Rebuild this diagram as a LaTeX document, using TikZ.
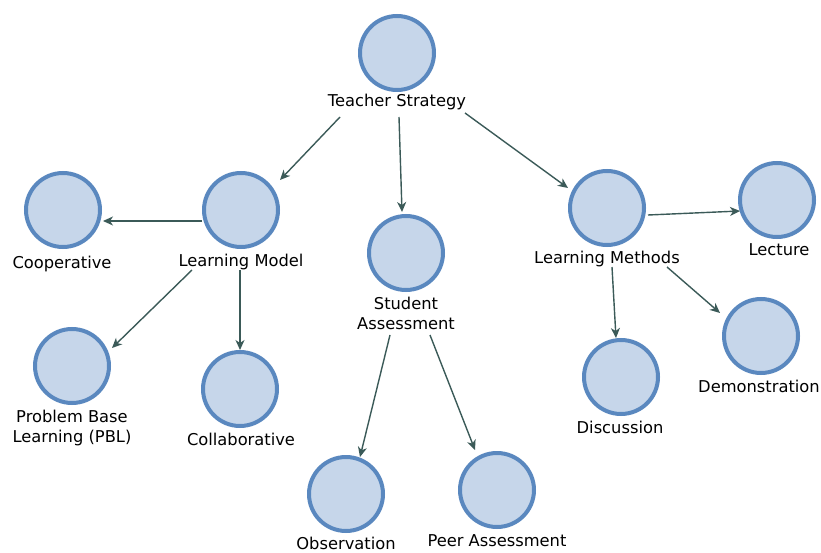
\documentclass[tikz,border=0pt]{standalone}
\usepackage{fontspec}
\setmainfont{DejaVu Sans}
\usetikzlibrary{arrows.meta,calc}
\definecolor{cfill}{HTML}{C6D6EA}
\definecolor{cdraw}{HTML}{5A88BF}
\definecolor{carrow}{HTML}{3B5A58}
\begin{document}
\begin{tikzpicture}[x=1pt,y=-1pt,
  concept/.style={circle,minimum size=74pt,inner sep=0pt,fill=cfill,draw=cdraw,line width=4pt},
  lbl/.style={anchor=base,inner sep=0pt,align=center,font=\fontsize{16.3}{20}\selectfont,text=black},
  conn/.style={draw=carrow,line width=1.4pt,-{Stealth[length=10pt,width=9pt,inset=3pt]}}]
\useasboundingbox (0,0) rectangle (821,553);
% concepts
\node[concept] (ts) at (397,53) {};
\node[lbl] (tsl) at (397,107) {Teacher Strategy};
\node[concept] (lm) at (241,210) {};
\node[lbl] (lml) at (241,266) {Learning Model};
\node[concept] (coop) at (63,210) {};
\node[lbl] (coopl) at (62,268) {Cooperative};
\node[concept] (sa) at (406,253) {};
\node[lbl] (sal) at (406,329) {Student\\Assessment};
\node[concept] (lmeth) at (607,208) {};
\node[lbl] (lmethl) at (607,263) {Learning Methods};
\node[concept] (lec) at (777,200) {};
\node[lbl] (lecl) at (779,255) {Lecture};
\node[concept] (pbl) at (72,366) {};
\node[lbl] (pbll) at (72,442) {Problem Base\\Learning (PBL)};
\node[concept] (col) at (240,389) {};
\node[lbl] (coll) at (241,445) {Collaborative};
\node[concept] (disc) at (621,377) {};
\node[lbl] (discl) at (620,433) {Discussion};
\node[concept] (demo) at (761,336) {};
\node[lbl] (demol) at (759,392) {Demonstration};
\node[concept] (obs) at (346,494) {};
\node[lbl] (obsl) at (346,549) {Observation};
\node[concept] (peer) at (497,490) {};
\node[lbl] (peerl) at (497,546) {Peer Assessment};
% connectors
\draw[conn] ($(ts)+(-57,64)$) -- ($(lm)+(39,-30)$);
\draw[conn] ($(ts)+(2,64)$) -- ($(sa)+(-4,-41)$);
\draw[conn] ($(ts)+(68,60)$) -- ($(lmeth)+(-39,-20)$);
\draw[conn] ($(lm)+(-39,11)$) -- ($(coop)+(40,11)$);
\draw[conn] ($(lm)+(-49,60)$) -- ($(pbl)+(40,-18)$);
\draw[conn] ($(lm)+(-1,60)$) -- ($(col)+(0,-39)$);
\draw[conn] ($(sa)+(-16,82)$) -- ($(obs)+(14,-37)$);
\draw[conn] ($(sa)+(24,82)$) -- ($(peer)+(-22,-40)$);
\draw[conn] ($(lmeth)+(41,7)$) -- ($(lec)+(-37,11)$);
\draw[conn] ($(lmeth)+(5,59)$) -- ($(disc)+(-5,-39)$);
\draw[conn] ($(lmeth)+(60,59)$) -- ($(demo)+(-41,-23)$);
\end{tikzpicture}
\end{document}
